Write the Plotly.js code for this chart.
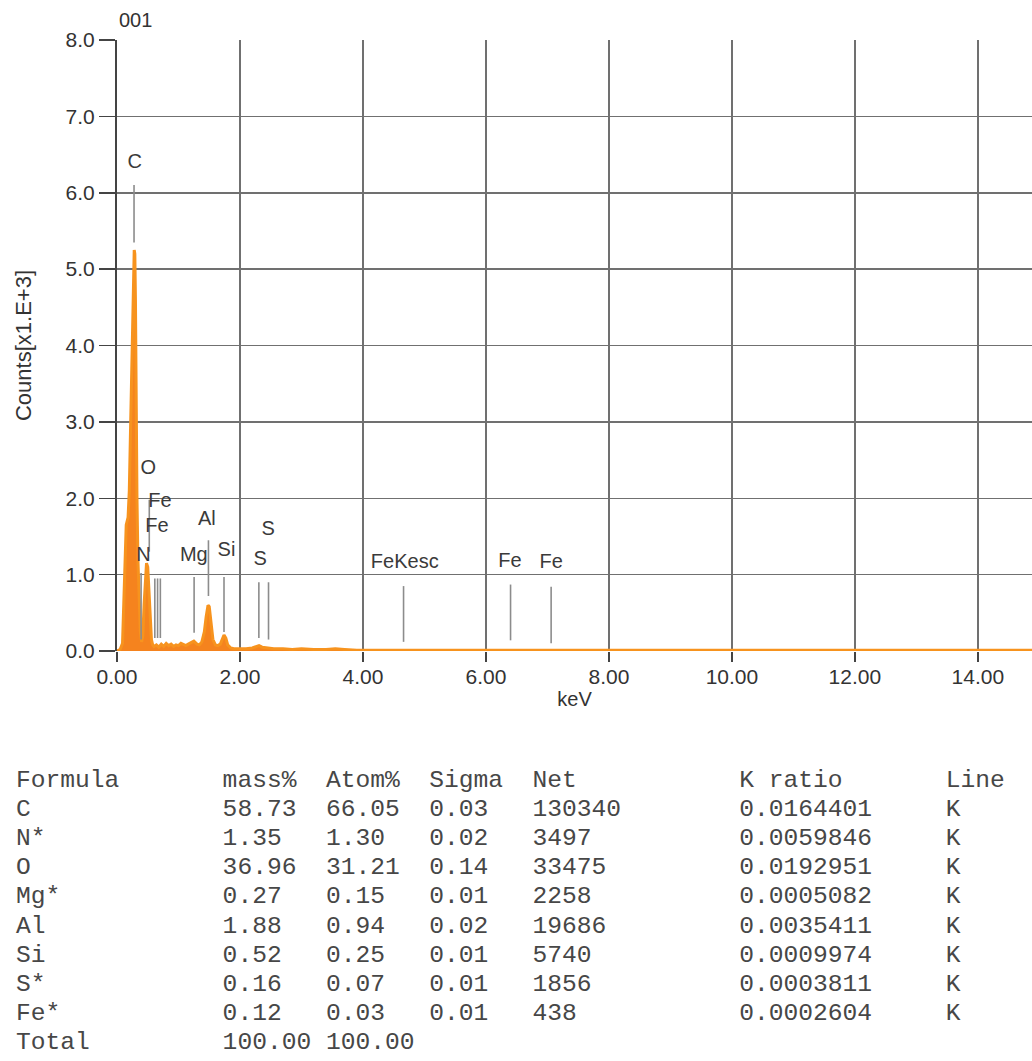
<!DOCTYPE html>
<html>
<head>
<meta charset="utf-8">
<script src="https://cdn.plot.ly/plotly-3.0.1.min.js"></script>
<style>
html,body{margin:0;padding:0;background:#ffffff;}
#chart{width:1032px;height:1061px;}
</style>
</head>
<body>
<div id="chart"></div>
<script>
// ---- Spectrum (keV, counts x1000) ----
const energy = [0.00,0.05,0.09,0.11,0.13,0.15,0.18,0.20,0.22,0.24,0.26,0.28,0.29,0.30,0.31,0.325,0.34,0.36,0.38,0.40,0.42,0.44,0.46,0.48,0.50,0.52,0.54,0.56,0.58,
  0.60,0.64,0.68,0.72,0.76,0.80,0.84,0.88,0.92,0.96,1.00,1.04,1.08,1.12,1.16,1.20,1.25,1.30,1.34,1.38,1.42,1.45,1.48,1.50,1.53,1.56,1.60,1.64,1.68,1.71,1.74,1.77,1.80,1.85,1.90,
  2.00,2.10,2.20,2.27,2.31,2.36,2.45,2.55,2.70,2.85,3.00,3.20,3.40,3.55,3.70,3.90,4.20,5.00,6.00,6.40,6.50,8.00,10.00,12.00,14.00,15.00];
const counts = [0.00,0.02,0.10,0.55,1.20,1.65,1.75,2.10,2.90,3.60,4.50,5.25,5.20,4.60,3.30,2.00,1.20,0.55,0.25,0.12,0.20,0.60,0.95,1.15,1.10,0.80,0.35,0.15,0.08,
  0.06,0.08,0.05,0.09,0.06,0.10,0.07,0.09,0.06,0.08,0.07,0.10,0.08,0.07,0.09,0.11,0.13,0.09,0.08,0.12,0.25,0.45,0.60,0.58,0.38,0.15,0.08,0.07,0.09,0.15,0.21,0.17,0.08,0.04,0.03,
  0.03,0.03,0.04,0.06,0.07,0.05,0.04,0.03,0.03,0.02,0.03,0.02,0.02,0.03,0.02,0.01,0.01,0.01,0.01,0.015,0.01,0.01,0.01,0.01,0.01,0.01];

// ---- Element marker lines ----
const markerEnergy = [0.277,0.392,0.525,0.615,0.660,0.705,1.254,1.487,1.740,2.307,2.464,4.66,6.40,7.06];
const markerTop    = [6.10,1.02,1.98,0.95,0.95,0.95,0.97,1.45,0.97,0.90,0.90,0.85,0.87,0.84];
const markerBottom = [5.35,0.15,1.30,0.17,0.17,0.17,0.24,0.72,0.25,0.17,0.15,0.12,0.14,0.10];

// ---- Element labels ----
const labelText = ["C","O","Fe","Fe","N","Mg","Al","Si","S","S","FeKesc","Fe","Fe"];
const labelX    = [0.29,0.51,0.70,0.65,0.43,1.25,1.46,1.78,2.46,2.33,4.68,6.39,7.06];
const labelY    = [6.39,2.38,1.95,1.62,1.24,1.25,1.72,1.31,1.58,1.19,1.15,1.16,1.15];

// ---- Quantification table ----
const tableHeader = ["Formula","mass%","Atom%","Sigma","Net","K ratio","Line"];
const formula = ["C","N*","O","Mg*","Al","Si","S*","Fe*","Total"];
const massPct = ["58.73","1.35","36.96","0.27","1.88","0.52","0.16","0.12","100.00"];
const atomPct = ["66.05","1.30","31.21","0.15","0.94","0.25","0.07","0.03","100.00"];
const sigma   = ["0.03","0.02","0.14","0.01","0.02","0.01","0.01","0.01",""];
const net     = ["130340","3497","33475","2258","19686","5740","1856","438",""];
const kRatio  = ["0.0164401","0.0059846","0.0192951","0.0005082","0.0035411","0.0009974","0.0003811","0.0002604",""];
const lineType= ["K","K","K","K","K","K","K","K",""];

// build marker line segments
const mx = [], my = [];
markerEnergy.forEach((e,i)=>{ mx.push(e,e,null); my.push(markerTop[i],markerBottom[i],null); });

const traces = [
  {x: energy, y: counts, type:'scatter', mode:'lines', fill:'tozeroy',
   fillcolor:'#F5831E', line:{color:'#F7931E', width:3}, hoverinfo:'skip'},
  {x: mx, y: my, type:'scatter', mode:'lines', line:{color:'#8c8c8c', width:1.6}, hoverinfo:'skip'},
  {x: labelX, y: labelY, type:'scatter', mode:'text', text: labelText,
   textfont:{family:'Liberation Sans, Arial, sans-serif', size:20, color:'#3a3a3a'}, hoverinfo:'skip'}
];

// table rows as annotations
const colStart = [0,14,21,28,35,49,63];
const NB = '\u00A0';
function makeRow(cells){
  let s = '';
  cells.forEach((c,i)=>{ while(s.length < colStart[i]) s += NB; s += c; });
  return s.replace(/ /g, NB);
}
const rows = [makeRow(tableHeader)];
formula.forEach((f,i)=> rows.push(makeRow([f,massPct[i],atomPct[i],sigma[i],net[i],kRatio[i],lineType[i]])));

const plotTop = 40, plotBottom = 651, plotLeft = 117, plotW = 915;
const plotH = plotBottom - plotTop;
const annotations = rows.map((r,i)=>({
  text: r, xref:'paper', yref:'paper', showarrow:false,
  x: (14 - plotLeft)/plotW, xanchor:'left',
  y: (plotBottom - (780 + i*29.2))/plotH, yanchor:'middle',
  font:{family:'Liberation Mono, Courier New, monospace', size:24.6, color:'#474747'}
}));
annotations.push({text:'001', xref:'paper', yref:'paper', showarrow:false,
  x: 0, xanchor:'left', y:(plotBottom - 20)/plotH, yanchor:'middle',
  font:{family:'Liberation Sans, Arial, sans-serif', size:20, color:'#333'}});

const layout = {
  width:1032, height:1061,
  margin:{l:plotLeft, r:0, t:plotTop, b:1061-plotBottom, pad:0},
  paper_bgcolor:'#ffffff', plot_bgcolor:'#ffffff',
  showlegend:false,
  xaxis:{range:[0,14.88], dtick:2, tick0:0, tickformat:'.2f',
    ticks:'outside', ticklen:10, tickwidth:1.5, tickcolor:'#444', ticklabelstandoff:-3,
    showgrid:true, gridcolor:'#707070', gridwidth:1.5, zeroline:false, showline:false,
    tickfont:{family:'Liberation Sans, Arial, sans-serif', size:21, color:'#333'},
    title:{text:'keV', font:{family:'Liberation Sans, Arial, sans-serif', size:20, color:'#333'}, standoff:0}},
  yaxis:{range:[0,8], dtick:1, tick0:0, tickformat:'.1f',
    ticks:'outside', ticklen:16, tickwidth:1.5, tickcolor:'#444',
    showgrid:true, gridcolor:'#707070', gridwidth:1.5, zeroline:false,
    showline:true, linecolor:'#444', linewidth:2,
    tickfont:{family:'Liberation Sans, Arial, sans-serif', size:21, color:'#333'},
    title:{text:'Counts[x1.E+3]', font:{family:'Liberation Sans, Arial, sans-serif', size:22, color:'#333'}, standoff:28}},
  annotations: annotations
};

Plotly.newPlot('chart', traces, layout, {staticPlot:true, displayModeBar:false});
</script>
</body>
</html>
